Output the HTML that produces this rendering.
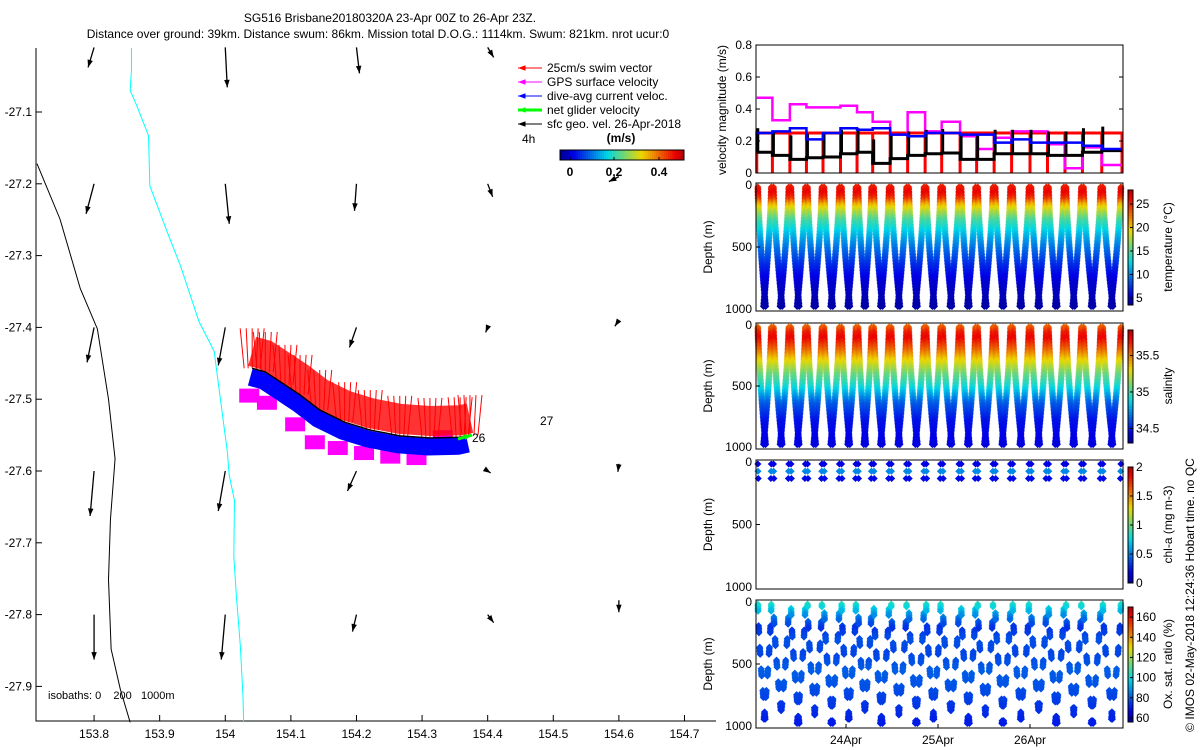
<!DOCTYPE html>
<html><head><meta charset="utf-8"><style>
body{margin:0;background:#fff;}
svg{display:block;font-family:"Liberation Sans",sans-serif;}
text{fill:#000;}
</style></head><body>
<svg id="s" width="1200" height="750" viewBox="0 0 1200 750">
<text x="390" y="22" font-size="12" text-anchor="middle">SG516 Brisbane20180320A 23-Apr 00Z to 26-Apr 23Z.</text>
<text x="378" y="38" font-size="12" text-anchor="middle">Distance over ground: 39km. Distance swum: 86km. Mission total D.O.G.: 1114km. Swum: 821km. nrot ucur:0</text>
<g id="map"></g>
<g id="right"></g>
<text transform="translate(1194,595) rotate(-90)" font-size="12" text-anchor="middle">© IMOS 02-May-2018 12:24:36 Hobart time. no QC</text>
</svg>
<script>
// ---------- data ----------
const lonTicks=[153.8,153.9,154,154.1,154.2,154.3,154.4,154.5,154.6,154.7];
const latTicks=[-27.1,-27.2,-27.3,-27.4,-27.5,-27.6,-27.7,-27.8,-27.9];
const coastLon=[153.713,153.748,153.779,153.805,153.822,153.832,153.825,153.822,153.826,153.840,153.855];
const coastLat=[-27.172,-27.249,-27.346,-27.402,-27.500,-27.583,-27.667,-27.751,-27.848,-27.904,-27.950];
const isoLon=[153.857,153.857,153.855,153.865,153.883,153.885,153.911,153.932,153.960,153.983,153.993,154.003,154.006,154.014,154.013,154.017,154.023,154.027,154.028];
const isoLat=[-27.011,-27.042,-27.070,-27.091,-27.133,-27.203,-27.266,-27.315,-27.392,-27.433,-27.503,-27.572,-27.606,-27.641,-27.719,-27.775,-27.844,-27.914,-27.950];
const arrLon=[153.8,154.0,154.2,154.4,153.8,154.0,154.2,154.4,154.6,153.8,154.0,154.2,154.4,154.6,153.8,154.0,154.2,154.4,154.6,153.8,154.0,154.2,154.4,154.6];
const arrLat=[-27.01,-27.01,-27.01,-27.01,-27.2,-27.2,-27.2,-27.2,-27.19,-27.4,-27.4,-27.4,-27.4,-27.39,-27.6,-27.6,-27.6,-27.6,-27.59,-27.8,-27.8,-27.8,-27.8,-27.78];
const arrU=[-6,2,3,6,-8,4,-2,5,-10,-7,-7,-7,-2,-4,-4,-7,-9,3,-1,0,-4,-4,6,0];
const arrV=[20,40,26,10,30,40,27,13,5,35,38,20,5,6,45,40,20,2,8,45,45,17,8,12];
const trkLon=[154.041,154.061,154.091,154.114,154.144,154.182,154.221,154.266,154.312,154.358,154.373];
const trkLat=[-27.457,-27.462,-27.480,-27.494,-27.515,-27.532,-27.543,-27.551,-27.554,-27.553,-27.550];
const magLon=[154.035,154.062,154.105,154.135,154.170,154.210,154.250,154.290,154.330];
const magLat=[-27.495,-27.505,-27.535,-27.560,-27.568,-27.575,-27.580,-27.582,-27.553];
// right panels
const diveStart=[0.03,0.20,0.39,0.57,0.75,0.94,1.12,1.29,1.48,1.67,1.86,2.04,2.24,2.42,2.61,2.80,3.00,3.19,3.38,3.57,3.78];
const diveEnd=4.0;
const velGPS=[0.47,0.33,0.43,0.41,0.41,0.42,0.38,0.32,0.24,0.38,0.26,0.32,0.23,0.15,0.22,0.26,0.26,0.18,0.03,0.16,0.05];
const velDAC=[0.25,0.26,0.28,0.21,0.25,0.28,0.27,0.28,0.24,0.23,0.25,0.25,0.24,0.24,0.19,0.21,0.19,0.19,0.19,0.17,0.15];
const velSfc=[0.13,0.11,0.085,0.095,0.10,0.12,0.13,0.06,0.09,0.11,0.12,0.125,0.085,0.085,0.12,0.12,0.12,0.11,0.11,0.13,0.14];
const velSwim=[0.25,0.25,0.25,0.25,0.25,0.25,0.25,0.25,0.25,0.25,0.25,0.25,0.25,0.25,0.25,0.25,0.25,0.25,0.25,0.25,0.25];
const profDepth=[0,50,100,150,200,280,400,500,650,800,1000];
const profTemp=[25.5,26.5,25,21,18.5,15,12,10,7.5,5.5,4.2];
const profSal=[35.55,35.7,35.75,35.65,35.55,35.35,35.1,34.95,34.65,34.5,34.45];
const chlDepth=[0,40,70,100,130,160];
const chlVal=[0.2,0.3,0.7,0.4,0.15,0.1];
const oxDepth=[0,60,120,200,300,420,560,700,850,1000];
const oxVal=[105,95,85,75,80,78,82,80,76,72];
const dayTicks=[1,2,3];const dayLabels=['24Apr','25Apr','26Apr'];

const NS='http://www.w3.org/2000/svg';
function el(p,t,a){const e=document.createElementNS(NS,t);for(const k in a)e.setAttribute(k,a[k]);p.appendChild(e);return e;}
function jet(f){f=Math.max(0,Math.min(1,f))*0.9+0.03;
 const r=Math.max(0,Math.min(1,1.5-Math.abs(4*f-3))),g=Math.max(0,Math.min(1,1.5-Math.abs(4*f-2))),b=Math.max(0,Math.min(1,1.5-Math.abs(4*f-1)));
 return `rgb(${r*235|0},${g*215|0},${b*230|0})`;}
function interp(xs,ys,x){for(let i=1;i<xs.length;i++){if(x<=xs[i]){const f=(x-xs[i-1])/(xs[i]-xs[i-1]);return ys[i-1]+f*(ys[i]-ys[i-1]);}}return ys[ys.length-1];}

// ---------- map ----------
const M=document.getElementById('map');
const lx=l=>37+(l-153.713)*656, ly=l=>112+(-27.1-l)*718;
let ax=el(M,'path',{d:'M36,48V721H716',stroke:'#000',fill:'none'});

lonTicks.forEach(v=>{const x=lx(v);el(M,'line',{x1:x,x2:x,y1:721,y2:715,stroke:'#000'});
 const t=el(M,'text',{x:x,y:738,'font-size':12,'text-anchor':'middle'});t.textContent=(+v.toFixed(1)).toString();
 });
latTicks.forEach(v=>{const y=ly(v);el(M,'line',{x1:36,x2:42,y1:y,y2:y,stroke:'#000'});
 const t=el(M,'text',{x:32,y:y+4,'font-size':12,'text-anchor':'end'});t.textContent=v.toFixed(1);
 });
let cl=el(M,'polyline',{points:coastLon.map((v,i)=>lx(v)+','+ly(coastLat[i])).join(' '),fill:'none',stroke:'#000'});

let il=el(M,'polyline',{points:isoLon.map((v,i)=>lx(v)+','+ly(isoLat[i])).join(' '),fill:'none',stroke:'#0ff'});

function arrow(g,x1,y1,x2,y2,c,w){el(g,'line',{x1,y1,x2,y2,stroke:c,'stroke-width':w});
 const a=Math.atan2(y2-y1,x2-x1),L=8;
 el(g,'polygon',{points:`${x2},${y2} ${x2-L*Math.cos(a-0.35)},${y2-L*Math.sin(a-0.35)} ${x2-L*Math.cos(a+0.35)},${y2-L*Math.sin(a+0.35)}`,fill:c});}
arrLon.forEach((v,i)=>{const g=el(M,'g',{});
 const x=lx(v),y=ly(arrLat[i]);arrow(g,x,y,x+arrU[i],y+arrV[i],'#000',1.3);});
const tp=trkLon.map((v,i)=>[lx(v),ly(trkLat[i])]);
magLon.forEach((v,i)=>{const m=el(M,'rect',{x:lx(v)-9,y:ly(magLat[i])-7,width:20,height:14,fill:'#f0f'});
 });
let rb=el(M,'polyline',{points:tp.map(p=>p[0]+','+(p[1]-17)).join(' '),fill:'none',stroke:'#f00','stroke-width':30,'stroke-opacity':0.8});

tp.forEach((p,i)=>{for(let k=-2;k<=2;k++){el(M,'line',{x1:p[0]+k*4,y1:p[1],x2:p[0]+k*6,y2:p[1]-40,stroke:'#f00'});}});
let bb=el(M,'polyline',{points:tp.map(p=>(p[0]-2)+','+(p[1]+9)).join(' '),fill:'none',stroke:'#00f','stroke-width':17});

let tl=el(M,'polyline',{points:tp.map(p=>p.join(',')).join(' '),fill:'none',stroke:'#000','stroke-width':1.5});

const last=tp[tp.length-1];
let gn=el(M,'g',{});
arrow(gn,last[0]-12,last[1]+4,last[0]+2,last[1],'#0f0',3);
[['26',472,442],['27',540,425]].forEach(a=>{const t=el(M,'text',{x:a[1],y:a[2],'font-size':12});t.textContent=a[0];
 });
let iso=el(M,'text',{x:48,y:699,'font-size':11,style:'white-space:pre'});iso.textContent='isobaths: 0    200   1000m';

const leg=[['25cm/s swim vector','#f00',1],['GPS surface velocity','#f0f',1],['dive-avg current veloc.','#00f',1],['net glider velocity','#0f0',3],['sfc geo. vel. 26-Apr-2018','#000',1]];
leg.forEach((l,i)=>{const g=el(M,'g',{});
 const y=68+i*14;arrow(g,542,y,518,y,l[1],l[2]);const t=el(g,'text',{x:547,y:y+4,'font-size':12});t.textContent=l[0];});
let h4=el(M,'text',{x:522,y:143,'font-size':12});h4.textContent='4h';
let ms=el(M,'text',{x:621,y:142,'font-size':12,'font-weight':'bold','text-anchor':'middle'});ms.textContent='(m/s)';

let cbg=el(M,'g',{});
for(let i=0;i<62;i++)el(cbg,'rect',{x:560+i*2,y:150,width:2.2,height:10,fill:jet(i/61)});
el(cbg,'rect',{x:560,y:150,width:124,height:10,fill:'none',stroke:'#000'});
[['0',570],['0.2',614],['0.4',659]].forEach(a=>{const t=el(cbg,'text',{x:a[1],y:176,'font-size':12,'font-weight':'bold','text-anchor':'middle'});t.textContent=a[0];el(cbg,'line',{x1:a[1],x2:a[1],y1:160,y2:157,stroke:'#000'});});

// ---------- right panels ----------
const R=document.getElementById('right');
const X0=756,X1=1123,tx=t=>754+t*92;
function frame(y0,y1,name){const r=el(R,'rect',{x:X0,y:y0,width:X1-X0,height:y1-y0,fill:'none',stroke:'#000'});
 }
const vy=v=>173-v*160;
const vg=el(R,'g',{});
function stepSeries(vals,color,w,name,drop){let pts=[];vals.forEach((v,i)=>{const a=tx(diveStart[i]),b=tx(i+1<diveStart.length?diveStart[i+1]:diveEnd);
 if(drop){pts.push(a+','+vy(0));}pts.push(a+','+vy(v),b+','+vy(v));if(drop)pts.push(b+','+vy(0));});
 const p=el(vg,'polyline',{points:pts.join(' '),fill:'none',stroke:color,'stroke-width':w});}
stepSeries(velSwim,'#f00',3,'swim-speed-series',true);
stepSeries(velGPS,'#f0f',2.5,'gps-speed-series',false);
stepSeries(velSfc,'#000',3,'surface-speed-series',false);
velSfc.forEach((v,i)=>{const a=tx(diveStart[i])+1;el(vg,'line',{x1:a,x2:a,y1:vy(v),y2:vy(v+0.15),stroke:'#000','stroke-width':3});});
stepSeries(velDAC,'#00f',2.5,'dive-avg-current-series',false);
frame(45,173,'velocity-axes');
[0,0.2,0.4,0.6,0.8].forEach(v=>{const y=vy(v);el(R,'line',{x1:X0,x2:X0+4,y1:y,y2:y,stroke:'#000'});el(R,'line',{x1:X1,x2:X1-4,y1:y,y2:y,stroke:'#000'});
 const t=el(R,'text',{x:752,y:y+4,'font-size':12,'text-anchor':'end'});t.textContent=v===0?'0':v.toFixed(1);
 });
let vt=el(R,'text',{transform:'translate(726,110) rotate(-90)','font-size':12,'text-anchor':'middle'});vt.textContent='velocity magnitude (m/s)';


function depthPanel(y0,y1,name,depths,vals,vmin,vmax,step,gapFn,cbTicks,cbLabel){
 const g=el(R,'g',{});
 const dy=d=>y0+4+d/1000*(y1-y0-8);
 diveStart.forEach((t0,i)=>{const t1=i+1<diveStart.length?diveStart[i+1]:diveEnd;const mid=(t0+t1)/2;
  for(let d=0;d<=1000;d+=step){ if(gapFn&&!gapFn(i,d))continue; if(d>depths[depths.length-1])break;
   const v=interp(depths,vals,d);const c=jet((v-vmin)/(vmax-vmin));
   const f=Math.pow(d/1000,1.4);
   [t0+(mid-t0)*f+0.012,t1-(t1-mid)*f-0.012].forEach(t=>{const x=tx(t),y=dy(d);
    el(g,'rect',{x:x-2.5,y:y-2.5,width:5,height:5,fill:c,transform:`rotate(45 ${x} ${y})`});});}});
 frame(y0,y1,name+'-axes');
 [[0,'0'],[500,'500'],[1000,'1000']].forEach(a=>{const y=a[0]===0?y0:a[0]===1000?y1:(y0+y1)/2;
  el(R,'line',{x1:X0,x2:X0+4,y1:y,y2:y,stroke:'#000'});
  const t=el(R,'text',{x:752,y:y+(a[0]===0?6:a[0]===1000?2:4),'font-size':12,'text-anchor':'end'});t.textContent=a[1];
  });
 const dt=el(R,'text',{transform:`translate(712,${(y0+y1)/2}) rotate(-90)`,'font-size':12,'text-anchor':'middle'});dt.textContent='Depth (m)';
 
 const cb=el(R,'g',{});
 const cy0=y0+7,cy1=y1-6,n=40;
 for(let i=0;i<n;i++)el(cb,'rect',{x:1128,y:cy0+(cy1-cy0)*i/n,width:5,height:(cy1-cy0)/n+0.5,fill:jet(1-i/n)});
 el(cb,'rect',{x:1128,y:cy0,width:5,height:cy1-cy0,fill:'none',stroke:'#000'});
 cbTicks.forEach(v=>{const y=cy1-(v-vmin)/(vmax-vmin)*(cy1-cy0);el(cb,'line',{x1:1133,x2:1130,y1:y,y2:y,stroke:'#000'});
  const t=el(cb,'text',{x:1136,y:y+4,'font-size':12});t.textContent=String(v);});
 const ct=el(R,'text',{transform:`translate(1172,${(y0+y1)/2}) rotate(-90)`,'font-size':12,'text-anchor':'middle'});ct.textContent=cbLabel;
 
}
depthPanel(183,311,'temperature-panel',profDepth,profTemp,3.5,28,12,null,[5,10,15,20,25],'temperature (°C)');
depthPanel(323,449,'salinity-panel',profDepth,profSal,34.3,35.85,12,null,[34.5,35,35.5],'salinity');
depthPanel(460,589,'chlorophyll-panel',chlDepth,chlVal,0,2,20,(i,d)=>((i*3+d/20)%3)===0,[0,0.5,1,1.5,2],'chl-a (mg m-3)');
depthPanel(600,728,'oxygen-panel',oxDepth,oxVal,56,170,12,(i,d)=>((i*7+Math.floor(d/36))%5)<2,[60,80,100,120,140,160],'Ox. sat. ratio (%)');
dayTicks.forEach((d,i)=>{const x=tx(d);el(R,'line',{x1:x,x2:x,y1:728,y2:724,stroke:'#000'});
 const t=el(R,'text',{x:x,y:744,'font-size':12,'text-anchor':'middle'});t.textContent=dayLabels[i];
 });
</script>
</body></html>
